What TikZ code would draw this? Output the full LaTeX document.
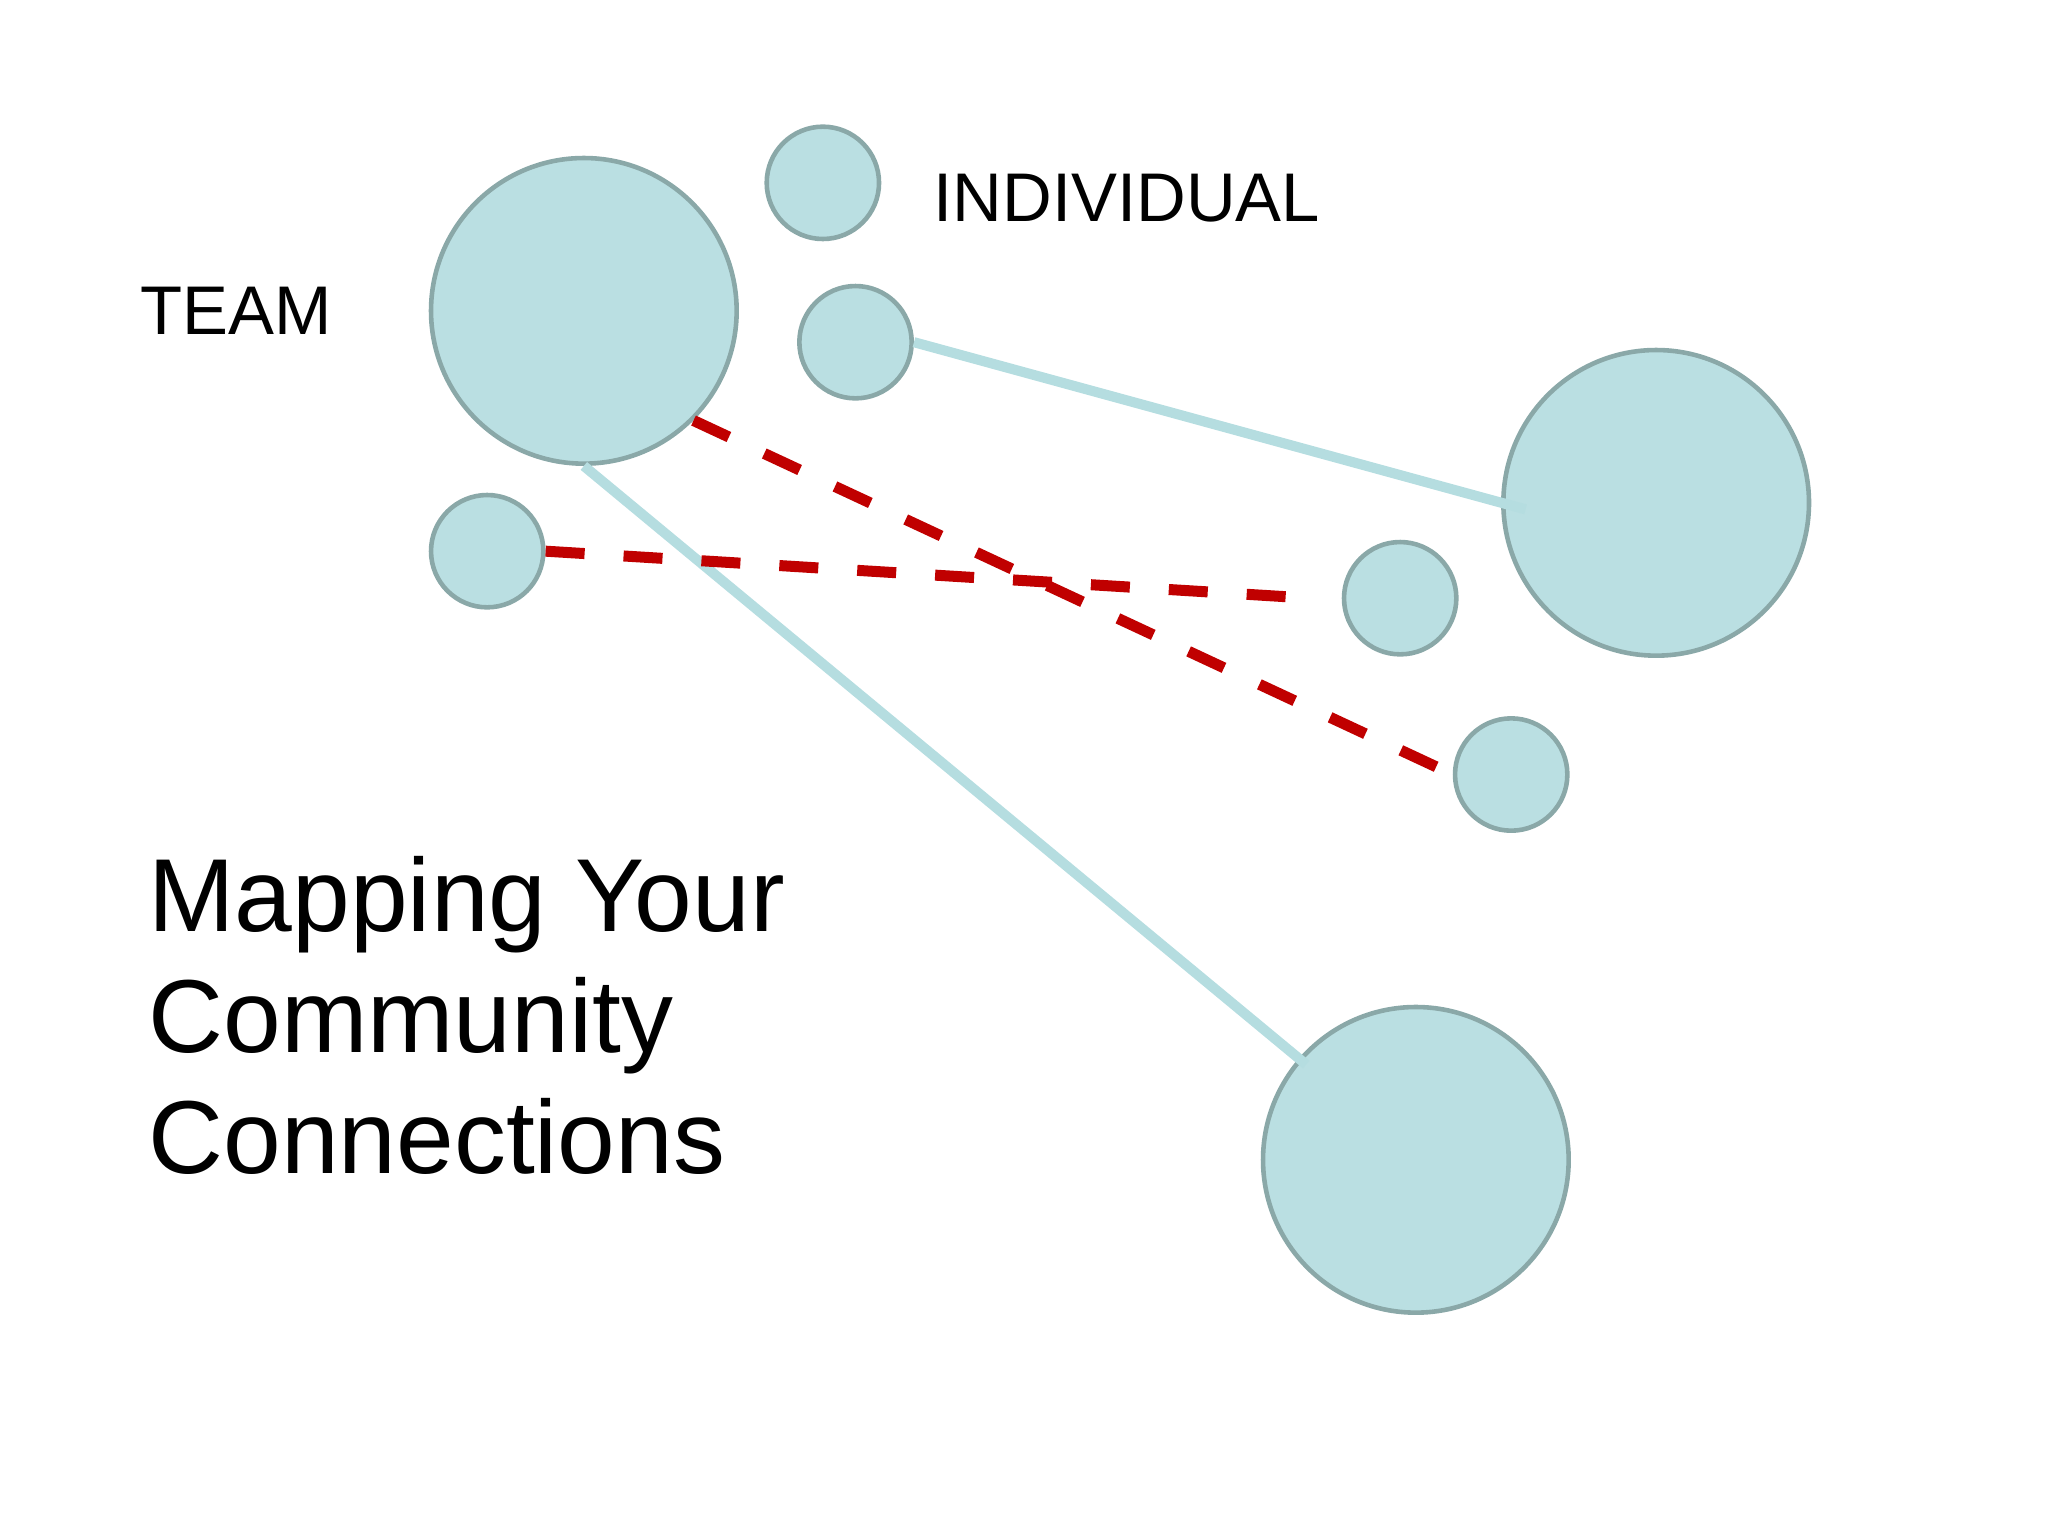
\documentclass[tikz,border=0pt]{standalone}
\usepackage{fontspec}
\setmainfont{Liberation Sans}
\definecolor{cfill}{HTML}{BADFE2}
\definecolor{cedge}{HTML}{8AA8A8}
\definecolor{clink}{HTML}{B5DDE0}
\definecolor{cred}{HTML}{C00000}
\begin{document}
\begin{tikzpicture}[y=-1cm,
  bub/.style={circle,draw=cedge,fill=cfill,line width=1pt,inner sep=0pt},
  big/.style={bub,minimum size=2.34cm},
  small/.style={bub,minimum size=0.86cm},
  link/.style={clink,line width=2.2pt},
  redlink/.style={cred,line width=2.4pt,dash pattern=on 8.5pt off 8.5pt},
  lbl/.style={font=\fontsize{15}{18}\selectfont,anchor=west,inner sep=0pt}]
\useasboundingbox (0,0) rectangle (15.68,11.76);
\node[big] (team) at (4.47,2.38) {};
\node[small] (s1) at (6.30,1.40) {};
\node[small] (s2) at (6.55,2.62) {};
\node[small] (s3) at (3.73,4.22) {};
\node[big] (r) at (12.68,3.85) {};
\node[small] (m1) at (10.72,4.58) {};
\node[small] (m2) at (11.57,5.93) {};
\node[big] (b) at (10.84,8.88) {};
\coordinate (rin) at (11.68,3.90);
\coordinate (bin) at (10.00,8.15);
\coordinate (m1end) at (10.03,4.58);
\draw[link] (s2.east) -- (rin);
\draw[link] (team.south) -- (bin);
\draw[redlink] (team.-45) -- (m2.west);
\draw[redlink] (s3.east) -- (m1end);
\node[lbl] (tl) at (1.07,2.38) {TEAM};
\node[lbl] (il) at (7.14,1.52) {INDIVIDUAL};
\node[anchor=north west,align=left,inner sep=0pt,font=\fontsize{22.6}{26.4}\selectfont] (title) at (1.13,6.55) {Mapping Your\\Community\\Connections};
\end{tikzpicture}
\end{document}
